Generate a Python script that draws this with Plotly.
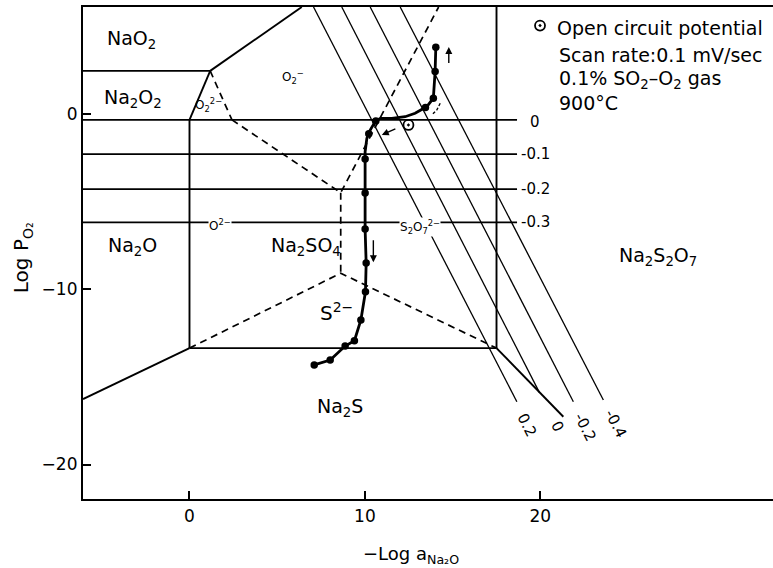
import plotly.graph_objects as go

# ---------------- axis extents (data units) ----------------
X_MIN, X_MAX = -6.07, 33.26
Y_MIN, Y_MAX = -21.97, 6.14

# ---------------- solid phase boundaries ----------------
nao2_na2o2_x = [X_MIN, 1.18]
nao2_na2o2_y = [2.49, 2.49]
nao2_o2m_x = [1.18, 6.4]
nao2_o2m_y = [2.49, Y_MAX]
na2o2_edge_x = [1.18, 0.0]
na2o2_edge_y = [2.49, -0.31]
box_left_x = [0.0, 0.0]
box_left_y = [-0.31, -13.35]
box_bottom_x = [0.0, 17.5]
box_bottom_y = [-13.35, -13.35]
box_right_x = [17.5, 17.5]
box_right_y = [Y_MAX, -13.35]
na2o_na2s_x = [X_MIN, 0.0]
na2o_na2s_y = [-16.26, -13.35]
na2s_na2s2o7_x = [17.5, 21.31]
na2s_na2s2o7_y = [-13.35, -17.27]

# ---------------- dashed (ionic) boundaries ----------------
o22_edge_x = [1.18, 2.42]
o22_edge_y = [2.49, -0.31]
o2m_o2_x = [2.42, 8.62, 14.2]
o2m_o2_y = [-0.31, -4.47, Y_MAX]
so4_mid_x = [8.62, 8.62]
so4_mid_y = [-4.47, -9.07]
s2_top_x = [0.0, 8.62, 17.5]
s2_top_y = [-13.35, -9.07, -13.35]

# ---------------- iso-potential lines ----------------
h_labels = ["0", "-0.1", "-0.2", "-0.3"]
h_levels = [-0.31, -2.27, -4.26, -6.16]
h_lab_x = [19.72, 19.75, 19.75, 19.75]
h_lab_y = [-0.45, -2.27, -4.26, -6.16]
h_end_x = 18.67

d_labels = ["0.2", "0", "-0.2", "-0.4"]
d_top_x = [7.07, 8.68, 10.30, 12.01]
d_bot_x = [18.66, 19.95, 21.88, 23.59]
d_bot_y = [-16.41, -15.89, -16.41, -16.31]
d_lab_x = [19.23, 20.97, 22.55, 24.26]
d_lab_y = [-17.74, -17.87, -17.84, -17.65]

# ---------------- polarisation scan ----------------
scan_x = [14.04, 14.00, 13.90, 13.53, 12.86, 12.29, 11.53, 10.87, 10.58, 10.30,
          10.11, 10.01, 10.01, 10.01, 10.01, 10.07, 10.03, 9.77, 9.40, 8.87,
          8.02, 7.11]
scan_y = [3.84, 2.45, 0.93, 0.45, 0.07, -0.13, -0.22, -0.22, -0.41, -0.89,
          -1.36, -2.13, -2.66, -4.49, -6.54, -8.49, -10.13, -11.74, -12.93, -13.23,
          -14.03, -14.31]
dot_x = [14.04, 14.00, 13.90, 13.45, 10.62, 10.22, 10.01, 10.01, 10.01, 10.07,
         10.03, 9.77, 9.40, 8.87, 8.02, 7.11]
dot_y = [3.84, 2.45, 0.93, 0.40, -0.38, -1.10, -2.55, -4.49, -6.54, -8.49,
         -10.13, -11.74, -12.93, -13.23, -14.03, -14.31]
ocp_x = [12.48]
ocp_y = [-0.60]

# ---------------- region labels ----------------
region_text = ["NaO<sub>2</sub>", "Na<sub>2</sub>O<sub>2</sub>", "Na<sub>2</sub>O",
               "Na<sub>2</sub>SO<sub>4</sub>", "Na<sub>2</sub>S<sub>2</sub>O<sub>7</sub>",
               "Na<sub>2</sub>S"]
region_x = [-3.32, -3.2, -3.26, 6.65, 26.71, 8.59]
region_y = [4.26, 0.89, -7.57, -7.57, -8.09, -16.77]

ion_text = ["O<sub>2</sub><sup>\u2212</sup>", "O<sub>2</sub><sup>2\u2212</sup>",
            "O<sup>2\u2212</sup>", "S<sub>2</sub>O<sub>7</sub><sup>2\u2212</sup>"]
ion_x = [5.91, 1.10, 1.75, 13.15]
ion_y = [2.14, 0.55, -6.30, -6.45]
ion_bg = [None, None, "white", "white"]

legend_lines = ["Open circuit potential", "Scan rate:0.1 mV/sec",
                "0.1% SO<sub>2</sub>\u2013O<sub>2</sub> gas", "900\u00b0C"]
legend_x = [20.84, 20.95, 20.95, 20.95]
legend_y = [4.94, 3.40, 1.97, 0.66]
legend_mark_x = [19.98]
legend_mark_y = [5.08]

FONT = "DejaVu Sans"
BLACK = "black"

fig = go.Figure()


def seg(xs, ys, width=1.8, dash="solid"):
    fig.add_trace(go.Scatter(x=xs, y=ys, mode="lines", showlegend=False,
                             hoverinfo="skip",
                             line=dict(color=BLACK, width=width, dash=dash)))


for xs, ys in [(nao2_na2o2_x, nao2_na2o2_y), (nao2_o2m_x, nao2_o2m_y),
               (na2o2_edge_x, na2o2_edge_y), (box_left_x, box_left_y),
               (box_bottom_x, box_bottom_y), (box_right_x, box_right_y),
               (na2o_na2s_x, na2o_na2s_y), (na2s_na2s2o7_x, na2s_na2s2o7_y)]:
    seg(xs, ys, 1.9)

for xs, ys in [(o22_edge_x, o22_edge_y), (o2m_o2_x, o2m_o2_y),
               (so4_mid_x, so4_mid_y), (s2_top_x, s2_top_y)]:
    seg(xs, ys, 1.7, "7px,5px")

for lv in h_levels:
    seg([X_MIN, h_end_x], [lv, lv], 1.7)

for tx, bx, by in zip(d_top_x, d_bot_x, d_bot_y):
    seg([tx, bx], [Y_MAX, by], 1.3)

# scan curve
fig.add_trace(go.Scatter(x=scan_x, y=scan_y, mode="lines", showlegend=False,
                         hoverinfo="skip", line=dict(color=BLACK, width=2.8)))
fig.add_trace(go.Scatter(x=dot_x, y=dot_y, mode="markers", showlegend=False,
                         hoverinfo="skip", marker=dict(color=BLACK, size=7.5)))
fig.add_trace(go.Scatter(x=ocp_x + legend_mark_x, y=ocp_y + legend_mark_y,
                         mode="markers", showlegend=False, hoverinfo="skip",
                         marker=dict(symbol="circle-open-dot", color=BLACK, size=10,
                                     line=dict(width=1.8, color=BLACK))))

ann = []
for t, x, y in zip(region_text, region_x, region_y):
    ann.append(dict(x=x, y=y, text=t, showarrow=False,
                    font=dict(family=FONT, size=19, color=BLACK)))
for t, x, y, bg in zip(ion_text, ion_x, ion_y, ion_bg):
    ann.append(dict(x=x, y=y, text=t, showarrow=False, bgcolor=bg, borderpad=0,
                    font=dict(family=FONT, size=12, color=BLACK)))
ann.append(dict(x=8.36, y=-11.29, text="S<sup>2\u2212</sup>", showarrow=False,
                font=dict(family=FONT, size=20, color=BLACK)))

for t, x, y in zip(h_labels, h_lab_x, h_lab_y):
    ann.append(dict(x=x, y=y, text=t, showarrow=False, xanchor="center",
                    font=dict(family=FONT, size=15, color=BLACK)))
for t, x, y in zip(d_labels, d_lab_x, d_lab_y):
    ann.append(dict(x=x, y=y, text=t, showarrow=False, textangle=63,
                    font=dict(family=FONT, size=15, color=BLACK)))

for t, x, y in zip(legend_lines, legend_x, legend_y):
    ann.append(dict(x=x, y=y, text=t, showarrow=False, xanchor="left",
                    yanchor="middle",
                    font=dict(family=FONT, size=19, color=BLACK)))

# arrows along the scan
for (hx, hy, tx, ty) in [(14.78, 3.85, 14.78, 2.85), (10.48, -8.45, 10.48, -7.1),
                         (10.96, -1.17, 11.82, -0.79)]:
    ann.append(dict(x=hx, y=hy, ax=tx, ay=ty, xref="x", yref="y", axref="x",
                    ayref="y", text="", showarrow=True, arrowhead=2, arrowsize=1,
                    arrowwidth=1.4, arrowcolor=BLACK))
seg([14.29, 14.1, 13.81], [0.64, 0.26, -0.03], 1.4, "3px,2px")

# axis titles
ann.append(dict(xref="paper", yref="paper", x=0.475, y=-0.114,
                xanchor="center", yanchor="middle",
                text="\u2212Log a<sub>Na\u2082O</sub>", showarrow=False,
                font=dict(family=FONT, size=18, color=BLACK)))
ann.append(dict(xref="paper", yref="paper", x=-0.088, y=0.49, textangle=-90,
                xanchor="center", yanchor="middle",
                text="Log P<sub>O\u2082</sub>", showarrow=False,
                font=dict(family=FONT, size=20, color=BLACK)))

fig.update_layout(
    width=773, height=568,
    margin=dict(l=83, r=0, t=7, b=69),
    paper_bgcolor="white", plot_bgcolor="white",
    annotations=ann,
    showlegend=False,
    xaxis=dict(range=[X_MIN, X_MAX], tickvals=[0, 10, 20], ticks="inside",
               ticklen=8, tickwidth=1.5, tickcolor=BLACK, showline=True,
               linewidth=2.2, linecolor=BLACK, mirror=True, showgrid=False,
               zeroline=False, tickfont=dict(family=FONT, size=17, color=BLACK)),
    yaxis=dict(range=[Y_MIN, Y_MAX], tickvals=[0, -10, -20], ticks="inside",
               ticklen=8, tickwidth=1.5, tickcolor=BLACK, showline=True,
               linewidth=2.2, linecolor=BLACK, showgrid=False, zeroline=False,
               tickfont=dict(family=FONT, size=17, color=BLACK)),
)

fig.write_html("out.html")
